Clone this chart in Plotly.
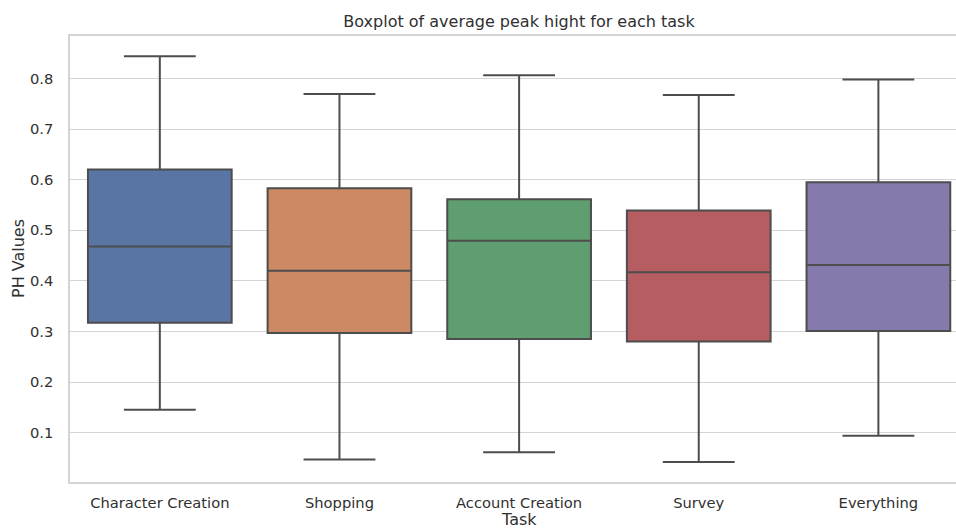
import plotly.graph_objects as go

# Summary statistics of average peak height per task
tasks = ["Character Creation", "Shopping", "Account Creation", "Survey", "Everything"]
lower_whisker = [0.145, 0.047, 0.061, 0.042, 0.094]
q1 = [0.317, 0.297, 0.285, 0.280, 0.301]
median = [0.468, 0.420, 0.479, 0.417, 0.431]
q3 = [0.620, 0.583, 0.561, 0.539, 0.595]
upper_whisker = [0.844, 0.769, 0.806, 0.767, 0.798]

box_colors = ["#5975A4", "#CC8963", "#5F9E6E", "#B55D60", "#857AAB"]
line_color = "#4d4d4d"
text_color = "#303030"
grid_color = "#d4d4d4"

fig = go.Figure()
for i, task in enumerate(tasks):
    fig.add_trace(go.Box(
        x=[task],
        q1=[q1[i]],
        median=[median[i]],
        q3=[q3[i]],
        lowerfence=[lower_whisker[i]],
        upperfence=[upper_whisker[i]],
        fillcolor=box_colors[i],
        line=dict(color=line_color, width=2),
        width=0.8,
        whiskerwidth=0.5,
        boxpoints=False,
        showlegend=False,
        name=task,
    ))

font_family = "DejaVu Sans, sans-serif"

fig.update_layout(
    width=956,
    height=528,
    margin=dict(l=70, r=0, t=36, b=46),
    paper_bgcolor="white",
    plot_bgcolor="white",
    boxmode="overlay",
    font=dict(family=font_family, color=text_color, size=14.7),
    title=dict(
        text="Boxplot of average peak hight for each task",
        font=dict(size=16, color=text_color),
        x=519 / 956,
        xref="container",
        xanchor="center",
        y=1 - 21 / 528,
        yref="container",
        yanchor="middle",
    ),
    xaxis=dict(
        type="category",
        categoryorder="array",
        categoryarray=tasks,
        range=[-0.5, 4.432],
        showgrid=False,
        showline=True,
        mirror=True,
        linecolor=grid_color,
        linewidth=1.5,
        ticks="",
        ticklabelstandoff=7,
    ),
    yaxis=dict(
        range=[0.0024, 0.8838],
        tickvals=[0.1, 0.2, 0.3, 0.4, 0.5, 0.6, 0.7, 0.8],
        ticktext=["0.1", "0.2", "0.3", "0.4", "0.5", "0.6", "0.7", "0.8"],
        showgrid=True,
        gridcolor=grid_color,
        gridwidth=1.4,
        zeroline=False,
        showline=True,
        linecolor=grid_color,
        linewidth=1.5,
        ticks="",
        ticklabelstandoff=12,
    ),
    annotations=[
        dict(
            text="Task", xref="paper", yref="paper",
            x=(519 - 70) / 886, y=0, yshift=-37,
            xanchor="center", yanchor="middle", showarrow=False,
            font=dict(size=16, color=text_color),
        ),
        dict(
            text="PH Values", xref="paper", yref="paper",
            x=0, y=0.5, xshift=-52,
            xanchor="center", yanchor="middle", showarrow=False,
            textangle=-90,
            font=dict(size=16, color=text_color),
        ),
    ],
)

fig.write_html("out.html")
